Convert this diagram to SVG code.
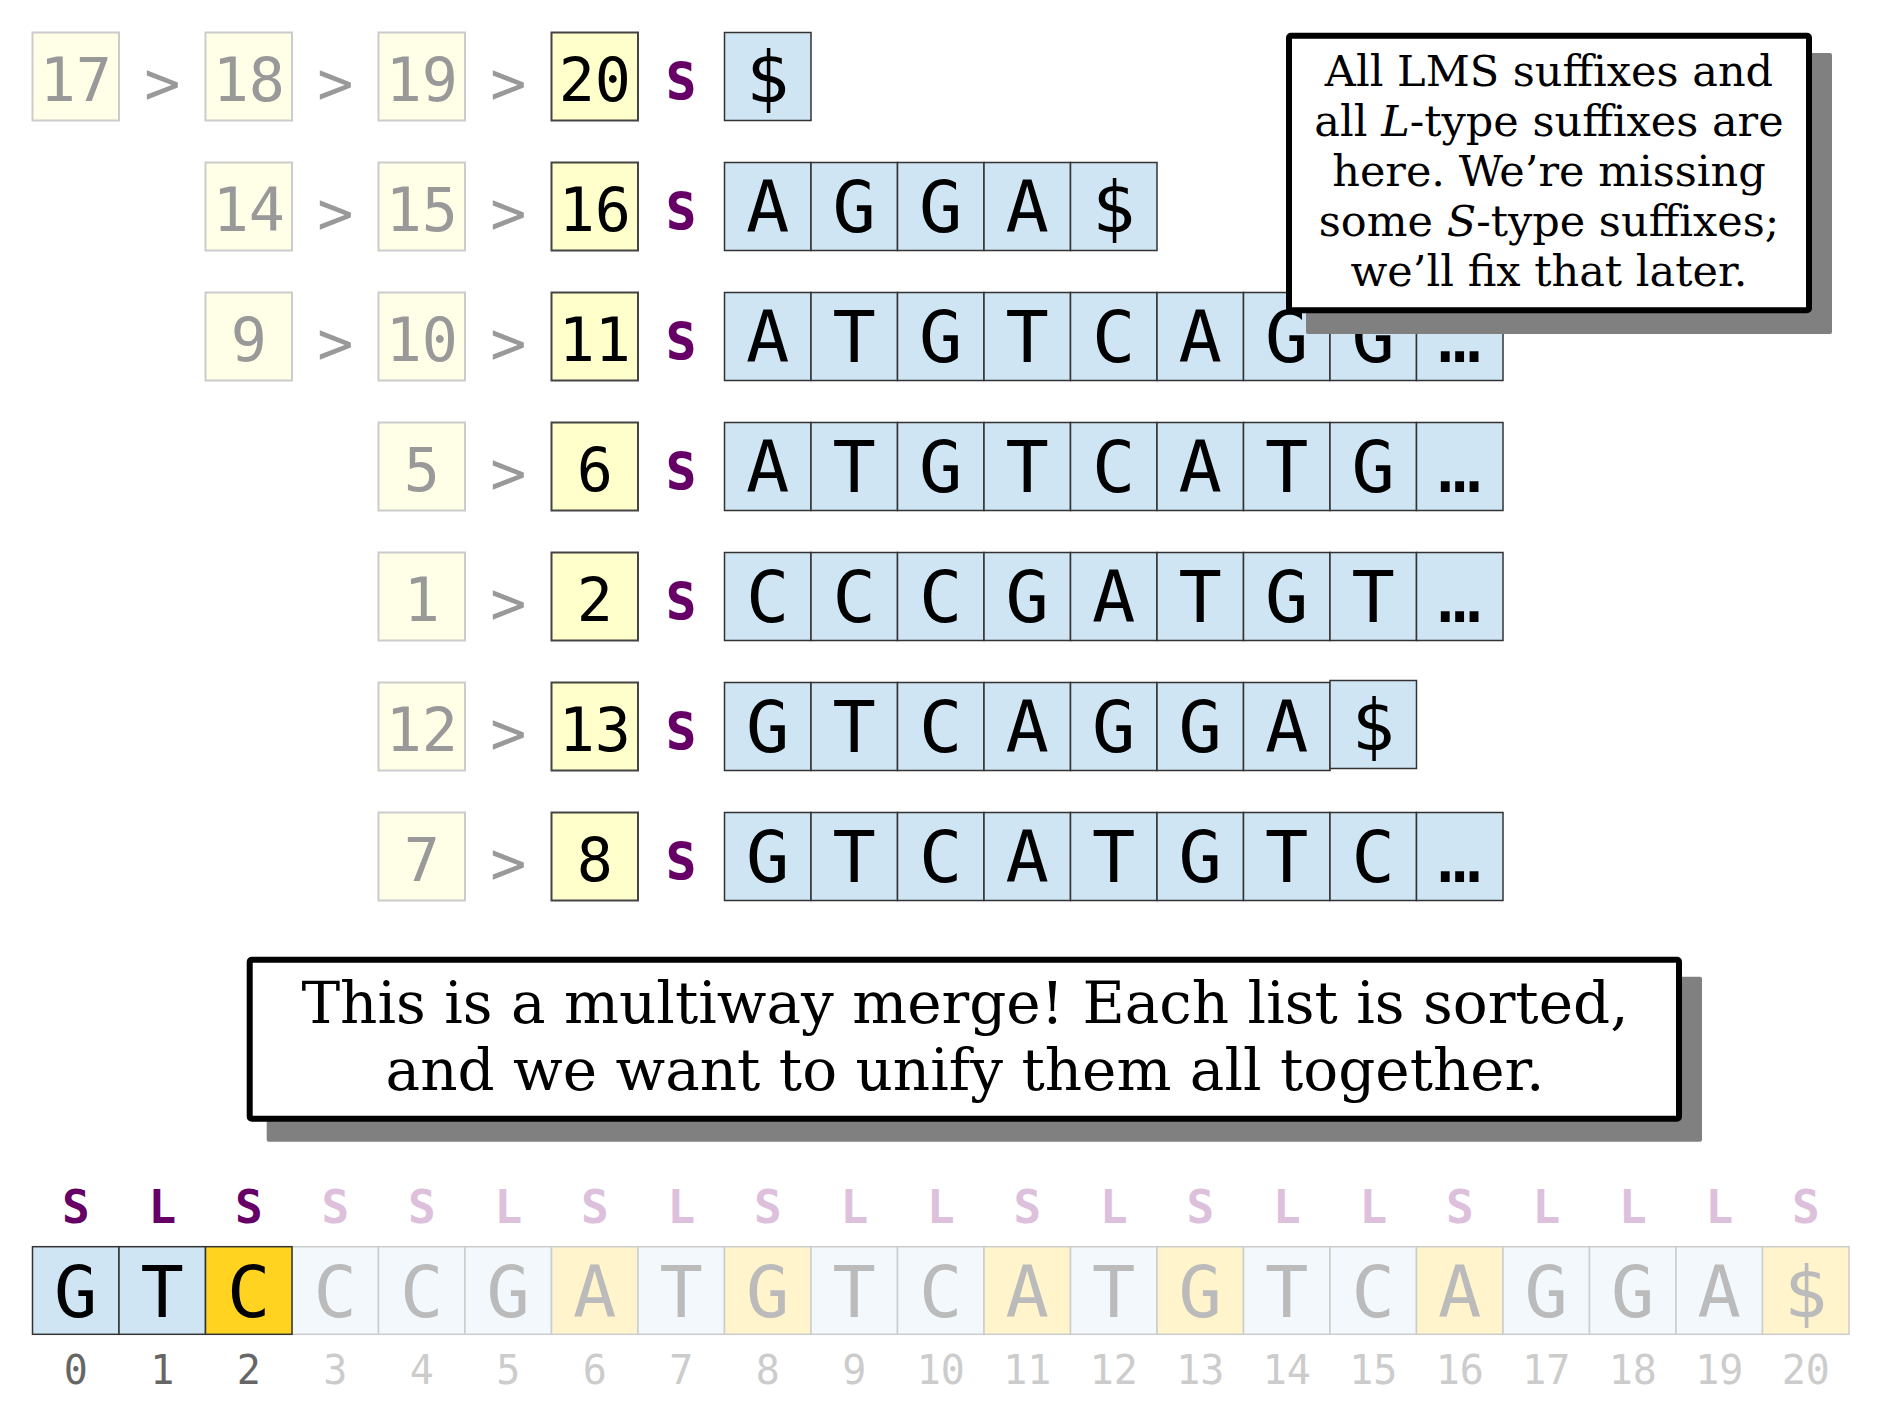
<svg xmlns="http://www.w3.org/2000/svg" width="1884" height="1402" viewBox="0 0 1884 1402">
<style>
.num{font-family:"DejaVu Sans Mono",monospace;font-size:60px;text-anchor:middle}
.fade{fill:#fffee6;stroke:#cccccc;stroke-width:2}
.fadet{fill:#999999}
.act{fill:#ffffcc;stroke:#444444;stroke-width:2}
.actt{fill:#000000}
.gt{font-family:"DejaVu Sans Mono",monospace;font-size:60px;text-anchor:middle;fill:#999999}
.s{font-family:"DejaVu Sans Mono",monospace;font-weight:bold;font-size:68px;text-anchor:middle;fill:#660066}
.cell{fill:#cfe5f3;stroke:#333333;stroke-width:1.5}
.ch{font-family:"DejaVu Sans Mono",monospace;font-size:72px;text-anchor:middle;fill:#000000}
.call{fill:#ffffff;stroke:#000000;stroke-width:6}
.shadow{fill:#808080}
.ser{font-family:"DejaVu Serif",serif;text-anchor:middle;fill:#000000}
.ty{font-family:"DejaVu Sans Mono",monospace;font-weight:bold;font-size:46px;text-anchor:middle}
.tyd{fill:#660066}
.tyf{fill:#dcc0dc}
.bc{stroke-width:1.5}
.bact{fill:#cfe5f3;stroke:#333333}
.bcur{fill:#ffd320;stroke:#333333}
.bfb{fill:#f2f8fc;stroke:#cccccc}
.bfy{fill:#fff4cc;stroke:#cccccc}
.bt{font-family:"DejaVu Sans Mono",monospace;font-size:72px;text-anchor:middle}
.idx{font-family:"DejaVu Sans Mono",monospace;font-size:40px;text-anchor:middle}
</style>

<g id="connectors">
<text class="gt" x="162.25" y="103.5">&gt;</text>
<text class="gt" x="335.25" y="103.5">&gt;</text>
<text class="gt" x="508.25" y="103.5">&gt;</text>
<text class="gt" x="335.25" y="233.5">&gt;</text>
<text class="gt" x="508.25" y="233.5">&gt;</text>
<text class="gt" x="335.25" y="363.5">&gt;</text>
<text class="gt" x="508.25" y="363.5">&gt;</text>
<text class="gt" x="508.25" y="493.5">&gt;</text>
<text class="gt" x="508.25" y="623.5">&gt;</text>
<text class="gt" x="508.25" y="753.5">&gt;</text>
<text class="gt" x="508.25" y="883.5">&gt;</text>
</g>

<g id="row0">
<rect class="fade" x="32.5" y="32.5" width="86.5" height="88"/><text class="num fadet" x="75.75" y="100.5">17</text>
<rect class="fade" x="205.5" y="32.5" width="86.5" height="88"/><text class="num fadet" x="248.75" y="100.5">18</text>
<rect class="fade" x="378.5" y="32.5" width="86.5" height="88"/><text class="num fadet" x="421.75" y="100.5">19</text>
<rect class="act" x="551.5" y="32.5" width="86.5" height="88"/><text class="num actt" x="594.75" y="100.5">20</text>
<text class="s" x="681" y="98.5" textLength="34" lengthAdjust="spacingAndGlyphs">s</text>
<rect class="cell" x="724.5" y="32.5" width="86.5" height="88"/><text class="ch" x="767.75" y="101.5">$</text>
</g>

<g id="row1">
<rect class="fade" x="205.5" y="162.5" width="86.5" height="88"/><text class="num fadet" x="248.75" y="230.5">14</text>
<rect class="fade" x="378.5" y="162.5" width="86.5" height="88"/><text class="num fadet" x="421.75" y="230.5">15</text>
<rect class="act" x="551.5" y="162.5" width="86.5" height="88"/><text class="num actt" x="594.75" y="230.5">16</text>
<text class="s" x="681" y="228.5" textLength="34" lengthAdjust="spacingAndGlyphs">s</text>
<rect class="cell" x="724.5" y="162.5" width="86.5" height="88"/><text class="ch" x="767.75" y="231.5">A</text>
<rect class="cell" x="811" y="162.5" width="86.5" height="88"/><text class="ch" x="854.25" y="231.5">G</text>
<rect class="cell" x="897.5" y="162.5" width="86.5" height="88"/><text class="ch" x="940.75" y="231.5">G</text>
<rect class="cell" x="984" y="162.5" width="86.5" height="88"/><text class="ch" x="1027.25" y="231.5">A</text>
<rect class="cell" x="1070.5" y="162.5" width="86.5" height="88"/><text class="ch" x="1113.75" y="231.5">$</text>
</g>

<g id="row2">
<rect class="fade" x="205.5" y="292.5" width="86.5" height="88"/><text class="num fadet" x="248.75" y="360.5">9</text>
<rect class="fade" x="378.5" y="292.5" width="86.5" height="88"/><text class="num fadet" x="421.75" y="360.5">10</text>
<rect class="act" x="551.5" y="292.5" width="86.5" height="88"/><text class="num actt" x="594.75" y="360.5">11</text>
<text class="s" x="681" y="358.5" textLength="34" lengthAdjust="spacingAndGlyphs">s</text>
<rect class="cell" x="724.5" y="292.5" width="86.5" height="88"/><text class="ch" x="767.75" y="361.5">A</text>
<rect class="cell" x="811" y="292.5" width="86.5" height="88"/><text class="ch" x="854.25" y="361.5">T</text>
<rect class="cell" x="897.5" y="292.5" width="86.5" height="88"/><text class="ch" x="940.75" y="361.5">G</text>
<rect class="cell" x="984" y="292.5" width="86.5" height="88"/><text class="ch" x="1027.25" y="361.5">T</text>
<rect class="cell" x="1070.5" y="292.5" width="86.5" height="88"/><text class="ch" x="1113.75" y="361.5">C</text>
<rect class="cell" x="1157" y="292.5" width="86.5" height="88"/><text class="ch" x="1200.25" y="361.5">A</text>
<rect class="cell" x="1243.5" y="292.5" width="86.5" height="88"/><text class="ch" x="1286.75" y="361.5">G</text>
<rect class="cell" x="1330" y="292.5" width="86.5" height="88"/><text class="ch" x="1373.25" y="361.5">G</text>
<rect class="cell" x="1416.5" y="292.5" width="86.5" height="88"/><text class="ch" x="1459.75" y="361.5">…</text>
</g>

<g id="row3">
<rect class="fade" x="378.5" y="422.5" width="86.5" height="88"/><text class="num fadet" x="421.75" y="490.5">5</text>
<rect class="act" x="551.5" y="422.5" width="86.5" height="88"/><text class="num actt" x="594.75" y="490.5">6</text>
<text class="s" x="681" y="488.5" textLength="34" lengthAdjust="spacingAndGlyphs">s</text>
<rect class="cell" x="724.5" y="422.5" width="86.5" height="88"/><text class="ch" x="767.75" y="491.5">A</text>
<rect class="cell" x="811" y="422.5" width="86.5" height="88"/><text class="ch" x="854.25" y="491.5">T</text>
<rect class="cell" x="897.5" y="422.5" width="86.5" height="88"/><text class="ch" x="940.75" y="491.5">G</text>
<rect class="cell" x="984" y="422.5" width="86.5" height="88"/><text class="ch" x="1027.25" y="491.5">T</text>
<rect class="cell" x="1070.5" y="422.5" width="86.5" height="88"/><text class="ch" x="1113.75" y="491.5">C</text>
<rect class="cell" x="1157" y="422.5" width="86.5" height="88"/><text class="ch" x="1200.25" y="491.5">A</text>
<rect class="cell" x="1243.5" y="422.5" width="86.5" height="88"/><text class="ch" x="1286.75" y="491.5">T</text>
<rect class="cell" x="1330" y="422.5" width="86.5" height="88"/><text class="ch" x="1373.25" y="491.5">G</text>
<rect class="cell" x="1416.5" y="422.5" width="86.5" height="88"/><text class="ch" x="1459.75" y="491.5">…</text>
</g>

<g id="row4">
<rect class="fade" x="378.5" y="552.5" width="86.5" height="88"/><text class="num fadet" x="421.75" y="620.5">1</text>
<rect class="act" x="551.5" y="552.5" width="86.5" height="88"/><text class="num actt" x="594.75" y="620.5">2</text>
<text class="s" x="681" y="618.5" textLength="34" lengthAdjust="spacingAndGlyphs">s</text>
<rect class="cell" x="724.5" y="552.5" width="86.5" height="88"/><text class="ch" x="767.75" y="621.5">C</text>
<rect class="cell" x="811" y="552.5" width="86.5" height="88"/><text class="ch" x="854.25" y="621.5">C</text>
<rect class="cell" x="897.5" y="552.5" width="86.5" height="88"/><text class="ch" x="940.75" y="621.5">C</text>
<rect class="cell" x="984" y="552.5" width="86.5" height="88"/><text class="ch" x="1027.25" y="621.5">G</text>
<rect class="cell" x="1070.5" y="552.5" width="86.5" height="88"/><text class="ch" x="1113.75" y="621.5">A</text>
<rect class="cell" x="1157" y="552.5" width="86.5" height="88"/><text class="ch" x="1200.25" y="621.5">T</text>
<rect class="cell" x="1243.5" y="552.5" width="86.5" height="88"/><text class="ch" x="1286.75" y="621.5">G</text>
<rect class="cell" x="1330" y="552.5" width="86.5" height="88"/><text class="ch" x="1373.25" y="621.5">T</text>
<rect class="cell" x="1416.5" y="552.5" width="86.5" height="88"/><text class="ch" x="1459.75" y="621.5">…</text>
</g>

<g id="row5">
<rect class="fade" x="378.5" y="682.5" width="86.5" height="88"/><text class="num fadet" x="421.75" y="750.5">12</text>
<rect class="act" x="551.5" y="682.5" width="86.5" height="88"/><text class="num actt" x="594.75" y="750.5">13</text>
<text class="s" x="681" y="748.5" textLength="34" lengthAdjust="spacingAndGlyphs">s</text>
<rect class="cell" x="724.5" y="682.5" width="86.5" height="88"/><text class="ch" x="767.75" y="751.5">G</text>
<rect class="cell" x="811" y="682.5" width="86.5" height="88"/><text class="ch" x="854.25" y="751.5">T</text>
<rect class="cell" x="897.5" y="682.5" width="86.5" height="88"/><text class="ch" x="940.75" y="751.5">C</text>
<rect class="cell" x="984" y="682.5" width="86.5" height="88"/><text class="ch" x="1027.25" y="751.5">A</text>
<rect class="cell" x="1070.5" y="682.5" width="86.5" height="88"/><text class="ch" x="1113.75" y="751.5">G</text>
<rect class="cell" x="1157" y="682.5" width="86.5" height="88"/><text class="ch" x="1200.25" y="751.5">G</text>
<rect class="cell" x="1243.5" y="682.5" width="86.5" height="88"/><text class="ch" x="1286.75" y="751.5">A</text>
<rect class="cell" x="1330" y="680.5" width="86.5" height="88"/><text class="ch" x="1373.25" y="749.5">$</text>
</g>

<g id="row6">
<rect class="fade" x="378.5" y="812.5" width="86.5" height="88"/><text class="num fadet" x="421.75" y="880.5">7</text>
<rect class="act" x="551.5" y="812.5" width="86.5" height="88"/><text class="num actt" x="594.75" y="880.5">8</text>
<text class="s" x="681" y="878.5" textLength="34" lengthAdjust="spacingAndGlyphs">s</text>
<rect class="cell" x="724.5" y="812.5" width="86.5" height="88"/><text class="ch" x="767.75" y="881.5">G</text>
<rect class="cell" x="811" y="812.5" width="86.5" height="88"/><text class="ch" x="854.25" y="881.5">T</text>
<rect class="cell" x="897.5" y="812.5" width="86.5" height="88"/><text class="ch" x="940.75" y="881.5">C</text>
<rect class="cell" x="984" y="812.5" width="86.5" height="88"/><text class="ch" x="1027.25" y="881.5">A</text>
<rect class="cell" x="1070.5" y="812.5" width="86.5" height="88"/><text class="ch" x="1113.75" y="881.5">T</text>
<rect class="cell" x="1157" y="812.5" width="86.5" height="88"/><text class="ch" x="1200.25" y="881.5">G</text>
<rect class="cell" x="1243.5" y="812.5" width="86.5" height="88"/><text class="ch" x="1286.75" y="881.5">T</text>
<rect class="cell" x="1330" y="812.5" width="86.5" height="88"/><text class="ch" x="1373.25" y="881.5">C</text>
<rect class="cell" x="1416.5" y="812.5" width="86.5" height="88"/><text class="ch" x="1459.75" y="881.5">…</text>
</g>

<g id="note-top">
<rect class="shadow" x="1306" y="53" width="526" height="281" rx="2"/>
<rect class="call" x="1289" y="35.7" width="520" height="274.6" rx="2"/>
<text class="ser" font-size="43" x="1549" y="86">All LMS suffixes and</text>
<text class="ser" font-size="43" x="1549" y="136">all <tspan font-style="italic">L</tspan>-type suffixes are</text>
<text class="ser" font-size="43" x="1549" y="186">here. We’re missing</text>
<text class="ser" font-size="43" x="1549" y="236">some <tspan font-style="italic">S</tspan>-type suffixes;</text>
<text class="ser" font-size="43" x="1549" y="286">we’ll fix that later.</text>
</g>

<g id="note-bottom">
<rect class="shadow" x="266.7" y="976.7" width="1435.3" height="165" rx="2"/>
<rect class="call" x="249.7" y="959.7" width="1429.3" height="159" rx="2"/>
<text class="ser" font-size="58" x="965" y="1023">This is a multiway merge! Each list is sorted,</text>
<text class="ser" font-size="58" x="965" y="1090">and we want to unify them all together.</text>
</g>

<g id="types">
<text class="ty tyd" x="75.75" y="1223">S</text>
<text class="ty tyd" x="162.25" y="1223">L</text>
<text class="ty tyd" x="248.75" y="1223">S</text>
<text class="ty tyf" x="335.25" y="1223">S</text>
<text class="ty tyf" x="421.75" y="1223">S</text>
<text class="ty tyf" x="508.25" y="1223">L</text>
<text class="ty tyf" x="594.75" y="1223">S</text>
<text class="ty tyf" x="681.25" y="1223">L</text>
<text class="ty tyf" x="767.75" y="1223">S</text>
<text class="ty tyf" x="854.25" y="1223">L</text>
<text class="ty tyf" x="940.75" y="1223">L</text>
<text class="ty tyf" x="1027.25" y="1223">S</text>
<text class="ty tyf" x="1113.75" y="1223">L</text>
<text class="ty tyf" x="1200.25" y="1223">S</text>
<text class="ty tyf" x="1286.75" y="1223">L</text>
<text class="ty tyf" x="1373.25" y="1223">L</text>
<text class="ty tyf" x="1459.75" y="1223">S</text>
<text class="ty tyf" x="1546.25" y="1223">L</text>
<text class="ty tyf" x="1632.75" y="1223">L</text>
<text class="ty tyf" x="1719.25" y="1223">L</text>
<text class="ty tyf" x="1805.75" y="1223">S</text>
</g>

<g id="string">
<rect class="bc bfb" x="292" y="1246.7" width="86.5" height="87.6"/>
<rect class="bc bfb" x="378.5" y="1246.7" width="86.5" height="87.6"/>
<rect class="bc bfb" x="465" y="1246.7" width="86.5" height="87.6"/>
<rect class="bc bfy" x="551.5" y="1246.7" width="86.5" height="87.6"/>
<rect class="bc bfb" x="638" y="1246.7" width="86.5" height="87.6"/>
<rect class="bc bfy" x="724.5" y="1246.7" width="86.5" height="87.6"/>
<rect class="bc bfb" x="811" y="1246.7" width="86.5" height="87.6"/>
<rect class="bc bfb" x="897.5" y="1246.7" width="86.5" height="87.6"/>
<rect class="bc bfy" x="984" y="1246.7" width="86.5" height="87.6"/>
<rect class="bc bfb" x="1070.5" y="1246.7" width="86.5" height="87.6"/>
<rect class="bc bfy" x="1157" y="1246.7" width="86.5" height="87.6"/>
<rect class="bc bfb" x="1243.5" y="1246.7" width="86.5" height="87.6"/>
<rect class="bc bfb" x="1330" y="1246.7" width="86.5" height="87.6"/>
<rect class="bc bfy" x="1416.5" y="1246.7" width="86.5" height="87.6"/>
<rect class="bc bfb" x="1503" y="1246.7" width="86.5" height="87.6"/>
<rect class="bc bfb" x="1589.5" y="1246.7" width="86.5" height="87.6"/>
<rect class="bc bfb" x="1676" y="1246.7" width="86.5" height="87.6"/>
<rect class="bc bfy" x="1762.5" y="1246.7" width="86.5" height="87.6"/>
<rect class="bc bact" x="32.5" y="1246.7" width="86.5" height="87.6"/>
<rect class="bc bact" x="119" y="1246.7" width="86.5" height="87.6"/>
<rect class="bc bcur" x="205.5" y="1246.7" width="86.5" height="87.6"/>
<text class="bt" fill="#000000" x="75.75" y="1316.5">G</text>
<text class="bt" fill="#000000" x="162.25" y="1316.5">T</text>
<text class="bt" fill="#000000" x="248.75" y="1316.5">C</text>
<text class="bt" fill="#bbbbbb" x="335.25" y="1316.5">C</text>
<text class="bt" fill="#bbbbbb" x="421.75" y="1316.5">C</text>
<text class="bt" fill="#bbbbbb" x="508.25" y="1316.5">G</text>
<text class="bt" fill="#bbbbbb" x="594.75" y="1316.5">A</text>
<text class="bt" fill="#bbbbbb" x="681.25" y="1316.5">T</text>
<text class="bt" fill="#bbbbbb" x="767.75" y="1316.5">G</text>
<text class="bt" fill="#bbbbbb" x="854.25" y="1316.5">T</text>
<text class="bt" fill="#bbbbbb" x="940.75" y="1316.5">C</text>
<text class="bt" fill="#bbbbbb" x="1027.25" y="1316.5">A</text>
<text class="bt" fill="#bbbbbb" x="1113.75" y="1316.5">T</text>
<text class="bt" fill="#bbbbbb" x="1200.25" y="1316.5">G</text>
<text class="bt" fill="#bbbbbb" x="1286.75" y="1316.5">T</text>
<text class="bt" fill="#bbbbbb" x="1373.25" y="1316.5">C</text>
<text class="bt" fill="#bbbbbb" x="1459.75" y="1316.5">A</text>
<text class="bt" fill="#bbbbbb" x="1546.25" y="1316.5">G</text>
<text class="bt" fill="#bbbbbb" x="1632.75" y="1316.5">G</text>
<text class="bt" fill="#bbbbbb" x="1719.25" y="1316.5">A</text>
<text class="bt" fill="#bbbbbb" x="1805.75" y="1316.5">$</text>
</g>

<g id="indices">
<text class="idx" fill="#666666" x="75.75" y="1384">0</text>
<text class="idx" fill="#666666" x="162.25" y="1384">1</text>
<text class="idx" fill="#666666" x="248.75" y="1384">2</text>
<text class="idx" fill="#cccccc" x="335.25" y="1384">3</text>
<text class="idx" fill="#cccccc" x="421.75" y="1384">4</text>
<text class="idx" fill="#cccccc" x="508.25" y="1384">5</text>
<text class="idx" fill="#cccccc" x="594.75" y="1384">6</text>
<text class="idx" fill="#cccccc" x="681.25" y="1384">7</text>
<text class="idx" fill="#cccccc" x="767.75" y="1384">8</text>
<text class="idx" fill="#cccccc" x="854.25" y="1384">9</text>
<text class="idx" fill="#cccccc" x="940.75" y="1384">10</text>
<text class="idx" fill="#cccccc" x="1027.25" y="1384">11</text>
<text class="idx" fill="#cccccc" x="1113.75" y="1384">12</text>
<text class="idx" fill="#cccccc" x="1200.25" y="1384">13</text>
<text class="idx" fill="#cccccc" x="1286.75" y="1384">14</text>
<text class="idx" fill="#cccccc" x="1373.25" y="1384">15</text>
<text class="idx" fill="#cccccc" x="1459.75" y="1384">16</text>
<text class="idx" fill="#cccccc" x="1546.25" y="1384">17</text>
<text class="idx" fill="#cccccc" x="1632.75" y="1384">18</text>
<text class="idx" fill="#cccccc" x="1719.25" y="1384">19</text>
<text class="idx" fill="#cccccc" x="1805.75" y="1384">20</text>
</g>
</svg>
